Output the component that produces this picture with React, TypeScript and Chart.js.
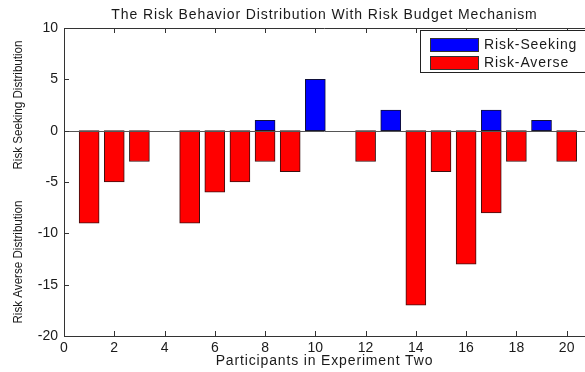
import React, { useEffect, useRef } from "react";
import { Chart, registerables } from "chart.js";

Chart.register(...registerables);

const participants = [1, 2, 3, 4, 5, 6, 7, 8, 9, 10, 11, 12, 13, 14, 15, 16, 17, 18, 19, 20];
const riskSeeking = [0, 0, 0, 0, 0, 0, 0, 1, 0, 5, 0, 0, 2, 0, 0, 0, 2, 0, 1, 0];
const riskAverse = [-9, -5, -3, 0, -9, -6, -5, -3, -4, 0, 0, -3, 0, -17, -4, -13, -8, -3, 0, -3];
const xTicks = [0, 2, 4, 6, 8, 10, 12, 14, 16, 18, 20];
const yTicks = [-20, -15, -10, -5, 0, 5, 10];

const titleText = "The Risk Behavior Distribution With Risk Budget Mechanism";
const xLabel = "Participants in Experiment Two";
const yLabelTop = "Risk Seeking Distribution";
const yLabelBottom = "Risk Averse Distribution";

const FONT = "'Liberation Sans', Arial, Helvetica, sans-serif";
const AXIS = "#333333";
const TEXT = "#1a1a1a";

const toPoints = (vals: number[]) =>
  participants.map((p, i) => ({ x: p, y: vals[i] })).filter((d) => d.y !== 0);

const decor = {
  id: "decor",
  afterDraw(chart: any) {
    const ctx = chart.ctx as CanvasRenderingContext2D;
    const a = chart.chartArea;
    const xs = chart.scales.x;
    const ys = chart.scales.y;
    ctx.save();

    // top border
    ctx.strokeStyle = AXIS;
    ctx.lineWidth = 1;
    ctx.beginPath();
    ctx.moveTo(a.left, a.top + 0.5);
    ctx.lineTo(a.right, a.top + 0.5);
    ctx.stroke();

    // zero baseline
    const y0 = Math.round(ys.getPixelForValue(0)) + 0.5;
    ctx.strokeStyle = "#555555";
    ctx.beginPath();
    ctx.moveTo(a.left, y0);
    ctx.lineTo(a.right, y0);
    ctx.stroke();

    // inward ticks
    ctx.strokeStyle = AXIS;
    const tl = 5;
    xTicks.forEach((v) => {
      const px = Math.round(xs.getPixelForValue(v)) + 0.5;
      ctx.beginPath();
      ctx.moveTo(px, a.bottom);
      ctx.lineTo(px, a.bottom - tl);
      ctx.moveTo(px, a.top);
      ctx.lineTo(px, a.top + tl);
      ctx.stroke();
    });
    yTicks.forEach((v) => {
      const py = Math.round(ys.getPixelForValue(v)) + 0.5;
      ctx.beginPath();
      ctx.moveTo(a.left, py);
      ctx.lineTo(a.left + tl, py);
      ctx.stroke();
    });

    // title
    ctx.fillStyle = TEXT;
    ctx.textAlign = "center";
    ctx.textBaseline = "middle";
    ctx.font = `14px ${FONT}`;
    (ctx as any).letterSpacing = "0.9px";
    ctx.fillText(titleText, (a.left + a.right) / 2, 15);

    // x label
    ctx.font = `14px ${FONT}`;
    (ctx as any).letterSpacing = "0.85px";
    ctx.fillText(xLabel, (a.left + a.right) / 2, 361);

    // y labels
    (ctx as any).letterSpacing = "0px";
    ctx.font = `13.5px ${FONT}`;
    const drawV = (txt: string, cy: number) => {
      ctx.save();
      ctx.translate(18, cy);
      ctx.rotate(-Math.PI / 2);
      ctx.scale(0.86, 1);
      ctx.fillText(txt, 0, 0);
      ctx.restore();
    };
    drawV(yLabelTop, 105);
    drawV(yLabelBottom, 262);

    // legend
    const bx = 420, by = 30, bw = 170, bh = 42;
    ctx.fillStyle = "#ffffff";
    ctx.fillRect(bx, by, bw, bh);
    ctx.strokeStyle = "#222222";
    ctx.strokeRect(bx + 0.5, by + 0.5, bw, bh);
    ctx.font = `14px ${FONT}`;
    (ctx as any).letterSpacing = "0.9px";
    ctx.textAlign = "left";
    chart.data.datasets.slice().reverse().forEach((ds: any, i: number) => {
      const ry = 38 + i * 18;
      ctx.fillStyle = ds.backgroundColor;
      ctx.fillRect(430, ry, 48, 13);
      ctx.strokeStyle = "#333333";
      ctx.strokeRect(430.5, ry + 0.5, 48, 13);
      ctx.fillStyle = TEXT;
      ctx.fillText(ds.label, 484, ry + 7);
    });
    ctx.restore();
  },
};

export default function App() {
  const ref = useRef<HTMLCanvasElement | null>(null);
  useEffect(() => {
    if (!ref.current) return;
    const chart = new Chart(ref.current, {
      type: "bar",
      data: {
        datasets: [
          {
            label: "Risk-Averse",
            data: toPoints(riskAverse) as any,
            backgroundColor: "#ff0000",
            borderColor: "#3a1010",
            borderWidth: 1,
            borderSkipped: false,
            barThickness: 20,
            grouped: false,
          } as any,
          {
            label: "Risk-Seeking",
            data: toPoints(riskSeeking) as any,
            backgroundColor: "#0000ff",
            borderColor: "#10103a",
            borderWidth: 1,
            borderSkipped: false,
            barThickness: 20,
            grouped: false,
          } as any,
        ],
      },
      options: {
        animation: false,
        responsive: true,
        maintainAspectRatio: false,
        layout: { padding: { top: 28, left: 0, right: 0, bottom: 0 } },
        plugins: { legend: { display: false }, title: { display: false }, tooltip: { enabled: false } },
        scales: {
          x: {
            type: "linear",
            min: 0,
            max: 20.73,
            offset: false,
            afterBuildTicks: (s: any) => {
              s.ticks = xTicks.map((v) => ({ value: v }));
            },
            afterFit: (s: any) => {
              s.height = 36;
            },
            grid: { display: false, drawTicks: false },
            border: { display: true, color: AXIS, width: 1 },
            ticks: { color: TEXT, font: { family: FONT, size: 14 }, padding: 4, maxRotation: 0 },
          },
          y: {
            type: "linear",
            min: -20,
            max: 10,
            afterBuildTicks: (s: any) => {
              s.ticks = yTicks.map((v) => ({ value: v }));
            },
            afterFit: (s: any) => {
              s.width = 64;
            },
            grid: { display: false, drawTicks: false },
            border: { display: true, color: AXIS, width: 1 },
            ticks: { color: TEXT, font: { family: FONT, size: 14 }, padding: 6 },
          },
        },
      },
      plugins: [decor],
    });
    return () => chart.destroy();
  }, []);
  return (
    <div style={{ position: "absolute", left: 0, top: 0, width: 585, height: 372 }}>
      <canvas ref={ref} />
    </div>
  );
}
